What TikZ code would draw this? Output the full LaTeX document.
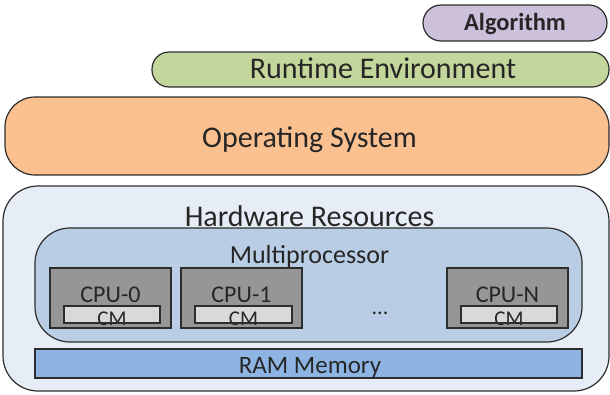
\documentclass[tikz,border=0pt]{standalone}
\usepackage{fontspec}
\setmainfont{Carlito}
\definecolor{edge}{RGB}{45,45,45}
\definecolor{algfill}{RGB}{204,192,218}
\definecolor{rtfill}{RGB}{195,214,155}
\definecolor{osfill}{RGB}{250,192,144}
\definecolor{hwfill}{RGB}{231,237,246}
\definecolor{mpfill}{RGB}{185,205,228}
\definecolor{ramfill}{RGB}{141,180,226}
\definecolor{cpufill}{RGB}{150,150,150}
\definecolor{cmfill}{RGB}{217,217,217}
\definecolor{txt}{RGB}{38,38,38}
\tikzset{
  layer/.style={draw=edge, line width=1.2pt, inner sep=0pt, outer sep=0pt, text=txt},
  cpubox/.style={layer, fill=cpufill, line width=1.1pt},
  cmbox/.style={layer, fill=cmfill, line width=1.1pt},
  cmline/.style={draw=edge, line width=1.1pt},
  lbl/.style={inner sep=0pt, text=txt, anchor=base},
}
\begin{document}
\begin{tikzpicture}[x=1pt,y=-1pt]
\useasboundingbox (0,0) rectangle (610,394);
% Algorithm
\draw[layer, fill=algfill, rounded corners=18pt] (423,5) rectangle (607,41);
\node[lbl, font=\fontsize{24.5}{24}\selectfont\bfseries] (alg) at (515,30.5) {Algorithm};
% Runtime
\draw[layer, fill=rtfill, rounded corners=17pt] (152,52) rectangle (609,87);
\node[lbl, font=\fontsize{30}{30}\selectfont] (rt) at (383,78) {Runtime Environment};
% OS
\draw[layer, fill=osfill, rounded corners=30pt] (5,97) rectangle (609,175);
\node[lbl, font=\fontsize{30}{30}\selectfont] (os) at (309.5,147) {Operating System};
% Hardware
\draw[layer, fill=hwfill, rounded corners=35pt] (3,186) rectangle (609,391);
\node[lbl, font=\fontsize{30}{30}\selectfont] (hw) at (309.5,226) {Hardware Resources};
% Multiprocessor
\draw[layer, fill=mpfill, rounded corners=35pt] (35,228) rectangle (582,342);
\node[lbl, font=\fontsize{26}{26}\selectfont] (mp) at (309.5,263) {Multiprocessor};
% CPUs
\node[cpubox, minimum width=121pt, minimum height=60pt] (cpu0) at (110.5,298) {};
\node[cpubox, minimum width=121pt, minimum height=60pt] (cpu1) at (241.5,298) {};
\node[cpubox, minimum width=121pt, minimum height=60pt] (cpun) at (507.5,298) {};
\node[lbl, font=\fontsize{24}{24}\selectfont] (cpu0t) at (110.5,302) {CPU-0};
\node[lbl, font=\fontsize{24}{24}\selectfont] (cpu1t) at (241.5,302) {CPU-1};
\node[lbl, font=\fontsize{24}{24}\selectfont] (cpunt) at (507.5,302) {CPU-N};
% cache memories
\node[cmbox, minimum width=96pt, minimum height=17pt] (cm0) at (112,314.5) {};
\node[cmbox, minimum width=97pt, minimum height=17pt] (cm1) at (243.5,314.5) {};
\node[cmbox, minimum width=96pt, minimum height=17pt] (cmn) at (509,314.5) {};
\node[lbl, font=\fontsize{21}{21}\selectfont] (cm0t) at (112,325) {CM};
\node[lbl, font=\fontsize{21}{21}\selectfont] (cm1t) at (243.5,325) {CM};
\node[lbl, font=\fontsize{21}{21}\selectfont] (cmnt) at (509,325) {CM};
\draw[cmline] (cm0.south west) rectangle (cm0.north east);
\draw[cmline] (cm1.south west) rectangle (cm1.north east);
\draw[cmline] (cmn.south west) rectangle (cmn.north east);
\node[lbl, font=\fontsize{22}{22}\selectfont] (dots) at (380,314) {...};
% RAM
\node[layer, fill=ramfill, minimum width=547pt, minimum height=29pt, line width=1.1pt] (ram) at (308.5,363.5) {};
\node[lbl, font=\fontsize{25}{25}\selectfont] (ramt) at (310,373) {RAM Memory};
\end{tikzpicture}
\end{document}
